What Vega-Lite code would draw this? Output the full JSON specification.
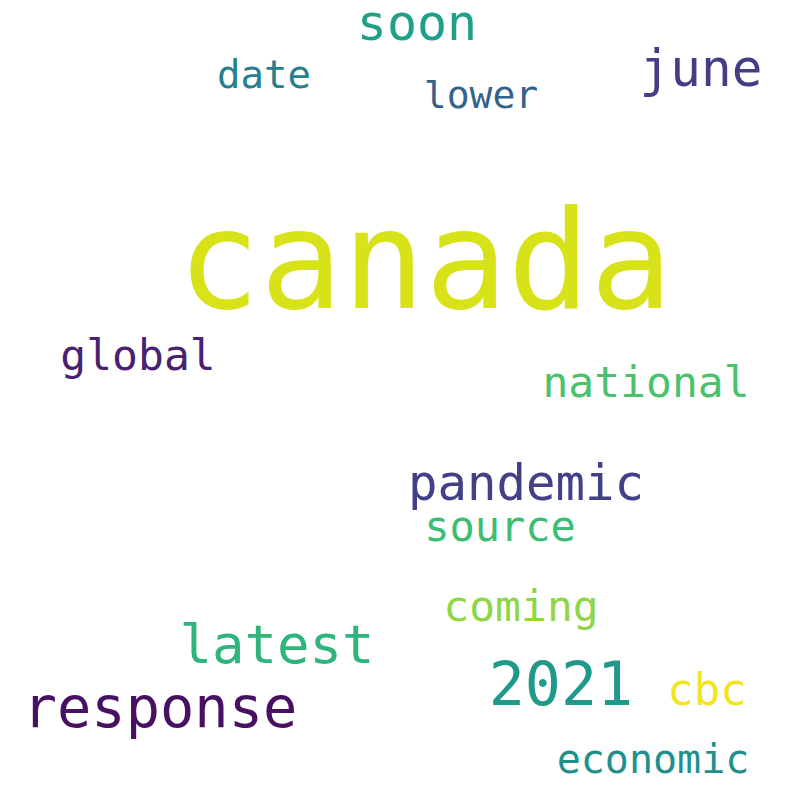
{
  "$schema": "https://vega.github.io/schema/vega-lite/v6.json",
  "width": 800,
  "height": 800,
  "autosize": "none",
  "padding": 0,
  "background": "white",
  "config": {"view": {"stroke": null}},
  "data": {
    "values": [
      {"word": "canada", "x": 425, "y": 308, "size": 137, "color": "#d8e219"},
      {"word": "soon", "x": 417, "y": 40, "size": 50, "color": "#1fa088"},
      {"word": "june", "x": 701, "y": 86, "size": 51, "color": "#433e85"},
      {"word": "date", "x": 264, "y": 88, "size": 39, "color": "#24808e"},
      {"word": "lower", "x": 481, "y": 108, "size": 38, "color": "#33638d"},
      {"word": "global", "x": 138, "y": 370, "size": 43, "color": "#482173"},
      {"word": "national", "x": 646, "y": 397, "size": 43, "color": "#4ac16d"},
      {"word": "pandemic", "x": 526, "y": 500, "size": 49, "color": "#424086"},
      {"word": "source", "x": 500, "y": 541, "size": 42, "color": "#3dbc74"},
      {"word": "coming", "x": 521, "y": 621, "size": 43, "color": "#8ed645"},
      {"word": "latest", "x": 277, "y": 663, "size": 54, "color": "#2fb47c"},
      {"word": "2021", "x": 561, "y": 705, "size": 60, "color": "#1f9a8a"},
      {"word": "response", "x": 160, "y": 727, "size": 57, "color": "#471063"},
      {"word": "cbc", "x": 707, "y": 705, "size": 44, "color": "#f1e51d"},
      {"word": "economic", "x": 653, "y": 773, "size": 40, "color": "#21908d"}
    ]
  },
  "mark": {"type": "text", "font": "DejaVu Sans Mono", "align": "center", "baseline": "alphabetic"},
  "encoding": {
    "text": {"field": "word"},
    "x": {"field": "x", "type": "quantitative", "scale": {"domain": [0, 800], "range": [0, 800]}, "axis": null},
    "y": {"field": "y", "type": "quantitative", "scale": {"domain": [0, 800], "range": [0, 800]}, "axis": null},
    "size": {"field": "size", "type": "quantitative", "scale": null, "legend": null},
    "color": {"field": "color", "type": "nominal", "scale": null, "legend": null}
  }
}
